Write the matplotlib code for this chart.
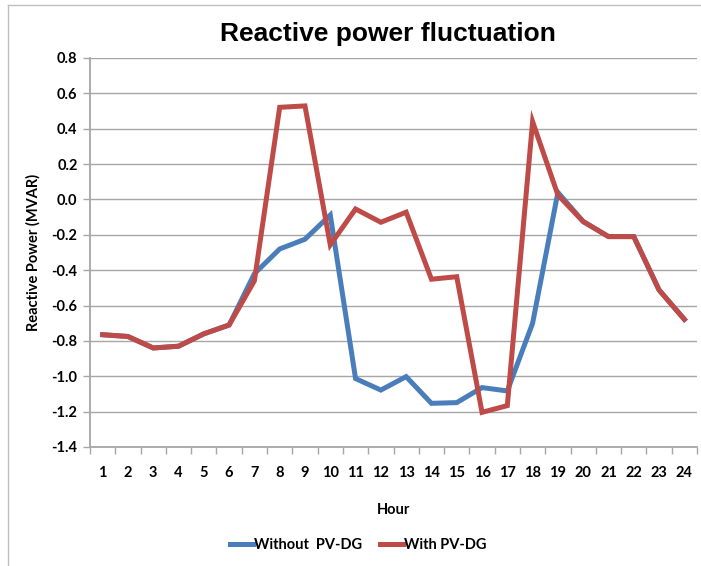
import matplotlib
matplotlib.use("Agg")
import matplotlib.pyplot as plt
from matplotlib.lines import Line2D
from matplotlib.ticker import MultipleLocator, FixedLocator

hours = list(range(1, 25))
without_pv = [-0.765, -0.775, -0.84, -0.83, -0.76, -0.71, -0.42, -0.28, -0.225, -0.088,
              -1.013, -1.078, -1.002, -1.153, -1.149, -1.064, -1.083, -0.70, 0.04, -0.125,
              -0.21, -0.21, -0.512, -0.678]
with_pv = [-0.765, -0.775, -0.84, -0.83, -0.76, -0.71, -0.46, 0.521, 0.529, -0.257,
           -0.054, -0.129, -0.072, -0.451, -0.437, -1.204, -1.166, 0.44, 0.025, -0.125,
           -0.21, -0.21, -0.512, -0.678]

blue = "#4A7EBB"
red = "#BE4B48"
grid_col = "#A6A6A6"

fig = plt.figure(figsize=(7.01, 5.66), dpi=100)
ax = fig.add_axes([90 / 701, 1 - 447 / 566, (697 - 90) / 701, (447 - 58) / 566])

ax.plot(hours, without_pv, color=blue, lw=3.6, solid_joinstyle="miter", label="Without  PV-DG")
ax.plot(hours, with_pv, color=red, lw=3.6, solid_joinstyle="miter", label="With PV-DG")

ax.set_xlim(0.5, 24.5)
ax.set_ylim(-1.4, 0.8)
ax.yaxis.set_major_locator(MultipleLocator(0.2))
ax.yaxis.set_major_formatter(plt.FuncFormatter(lambda v, p: f"{v:.1f}"))
ax.grid(axis="y", color=grid_col, lw=1)
ax.set_axisbelow(True)

ax.set_xticks(hours)
ax.xaxis.set_minor_locator(FixedLocator([h + 0.5 for h in range(0, 25)]))
ax.tick_params(axis="x", which="major", length=0, pad=14)
ax.tick_params(axis="x", which="minor", length=5, color=grid_col, width=1)
ax.tick_params(axis="y", length=5, color=grid_col, width=1, pad=4)

tick_font = dict(family="Lato", weight="bold", size=10.5)
for lbl in ax.get_xticklabels() + ax.get_yticklabels():
    lbl.set_fontfamily("Lato")
    lbl.set_fontweight("bold")
    lbl.set_fontsize(10.5)

for s in ["top", "right"]:
    ax.spines[s].set_visible(False)
for s in ["left", "bottom"]:
    ax.spines[s].set_color(grid_col)
    ax.spines[s].set_linewidth(1.3)

ax.set_xlabel("Hour", fontdict=tick_font, labelpad=16)
ax.set_ylabel("Reactive Power (MVAR)", fontdict=tick_font, labelpad=8)
fig.text(388 / 701, 1 - 34 / 566, "Reactive power fluctuation", ha="center", va="center",
         family="Liberation Sans", weight="bold", size=19)

leg = fig.legend(loc="center", bbox_to_anchor=(358 / 701, 1 - 545 / 566), ncol=2,
                 frameon=False, handlelength=1.6, handletextpad=0.05, columnspacing=1.2,
                 prop=dict(family="Lato", weight="bold", size=10.5))

# chart area border (only left and top visible)
fig.add_artist(Line2D([8 / 701, 8 / 701], [0, 1 - 5 / 566], transform=fig.transFigure,
                      color="#BFBFBF", lw=1))
fig.add_artist(Line2D([8 / 701, 1], [1 - 5 / 566, 1 - 5 / 566], transform=fig.transFigure,
                      color="#BFBFBF", lw=1))

fig.savefig("out.png", dpi=100)
